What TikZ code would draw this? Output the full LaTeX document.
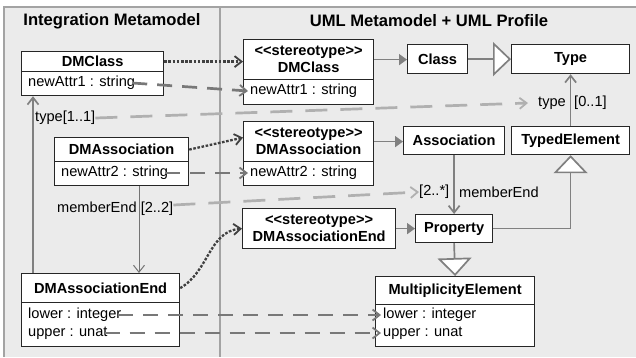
\documentclass[tikz,border=0pt]{standalone}
\usepackage{fontspec}
\setmainfont{Liberation Sans}
\usetikzlibrary{arrows.meta,positioning}

\definecolor{panel}{HTML}{EBEBEB}
\definecolor{frameln}{HTML}{A3A3A3}
\definecolor{conn}{HTML}{808080}
\definecolor{dotln}{HTML}{404040}
\definecolor{mapln}{HTML}{787878}
\definecolor{rolln}{HTML}{B0B0B0}
\newcommand\umlfont{\fontsize{14.6}{17}\selectfont}
\newcommand\stereotype{{<}{<}stereotype{>}{>}}

\begin{document}
\begin{tikzpicture}[x=1pt,y=-1pt,
  box/.style={draw=black!85,line width=1.2pt,fill=white,inner sep=0pt,anchor=north west,
    font=\umlfont\bfseries,align=center},
  attr/.style={inner sep=0pt,anchor=west,font=\umlfont},
  lbl/.style={inner sep=0pt,font=\umlfont},
  assoc/.style={draw=conn,line width=1.7pt,-{Straight Barb[length=7pt,width=11pt]}},
  ext/.style={draw=conn,line width=1.7pt,-{Triangle[length=8pt,width=11pt]}},
  gen/.style={draw=conn,line width=1.7pt,-{Triangle[length=18pt,width=34pt,fill=white]}},
  stereo/.style={draw=dotln,line width=2.3pt,dash pattern=on 2.6pt off 1.6pt,
    -{Straight Barb[length=7pt,width=11pt,line width=1.8pt]}},
  map/.style={draw=mapln,line width=2.7pt,dash pattern=on 15pt off 10pt,
    -{Straight Barb[length=7pt,width=11pt,line width=1.8pt]}},
  rolemap/.style={map,draw=rolln,dash pattern=on 22pt off 13pt},
]
\useasboundingbox (0,0) rectangle (636,357);

% panels
\fill[panel] (4,7) rectangle (636,357);
\draw[frameln,line width=1.6pt] (636,7) -- (4,7) -- (4,357);
\draw[frameln,line width=1.6pt] (220,7) -- (220,357);
\node[lbl,font=\fontsize{16.6}{18}\selectfont\bfseries] (titleL) at (112,21) {Integration Metamodel};
\node[lbl,font=\fontsize{16.6}{18}\selectfont\bfseries] (titleR) at (429,21) {UML Metamodel + UML Profile};

% integration metamodel
\node[box,minimum width=142pt,minimum height=20pt] (dmc) at (21,51) {DMClass};
\node[box,minimum width=142pt,minimum height=24pt] (dmcB) at (21,71) {};
\node[attr] (nA1) at (28,83) {newAttr1 : string};

\node[box,minimum width=134pt,minimum height=24pt] (dma) at (54,137) {DMAssociation};
\node[box,minimum width=134pt,minimum height=24pt] (dmaB) at (54,161) {};
\node[attr] (nA2) at (61,173) {newAttr2 : string};

\node[box,minimum width=158pt,minimum height=29pt] (dmae) at (21,273) {DMAssociationEnd};
\node[box,minimum width=158pt,minimum height=44pt] (dmaeB) at (21,302) {};
\node[attr] (nLo) at (28,315) {lower : integer};
\node[attr] (nUp) at (28,333) {upper : unat};

\node[attr] (t11) at (35,118) {type[1..1]};
\node[attr] (me22) at (57,209) {memberEnd [2..2]};

% uml metamodel + profile
\node[box,minimum width=130pt,minimum height=40pt] (sdmc) at (243,39) {\stereotype\\DMClass};
\node[box,minimum width=130pt,minimum height=25pt] (sdmcB) at (243,79) {};
\node[attr] (tA1) at (250,91) {newAttr1 : string};

\node[box,minimum width=130pt,minimum height=40pt] (sdma) at (243,121) {\stereotype\\DMAssociation};
\node[box,minimum width=130pt,minimum height=24pt] (sdmaB) at (243,161) {};
\node[attr] (tA2) at (250,173) {newAttr2 : string};

\node[box,minimum width=153pt,minimum height=40pt] (sdmae) at (242,208) {\stereotype\\DMAssociationEnd};

\node[box,minimum width=60pt,minimum height=29pt] (cls) at (407,44) {Class};
\node[box,minimum width=118pt,minimum height=29pt] (type) at (511,44) {Type};
\node[box,minimum width=101pt,minimum height=28pt] (asc) at (403,126) {Association};
\node[box,minimum width=118pt,minimum height=28pt] (typed) at (511,126) {TypedElement};
\node[box,minimum width=77pt,minimum height=28pt] (prop) at (415,214) {Property};
\node[box,minimum width=159pt,minimum height=28pt] (me) at (375,276) {MultiplicityElement};
\node[box,minimum width=159pt,minimum height=42pt] (meB) at (375,304) {};
\node[attr] (tLo) at (383,315) {lower : integer};
\node[attr] (tUp) at (383,333) {upper : unat};

\node[lbl,anchor=east] (t01a) at (566,103) {type};
\node[lbl,anchor=west] (t01b) at (574,103) {[0..1]};
\node[lbl,anchor=west] (m2s) at (419,192) {[2..*]};
\node[lbl,anchor=west] (mEnd) at (459,192) {memberEnd};

% metamodel relations
\draw[ext] (sdmc.east) -- (sdmc.east -| cls.west);
\draw[gen] (cls.east) -- (type.west);
\draw[assoc] (typed.north) -- (type.south);
\draw[ext] (sdma.east) -- (sdma.east -| asc.west);
\draw[assoc] (asc.south) -- (prop.north);
\draw[ext] (sdmae.east) -- (prop.west);
\draw[gen] (prop.east) -| (typed.south);
\draw[gen] (prop.south) -- (me.north);

\draw[assoc] ([xshift=12pt]dmae.north west) -- ([xshift=12pt]dmcB.south west);
\draw[assoc,line width=1pt,draw=black!55] ([xshift=85pt]dmaB.south west) -- ([xshift=118pt]dmae.north west);

% stereotype mapping
\draw[stereo] (dmc.east) -- (dmc.east -| sdmc.west);
\draw[stereo] (dma.east) -- ([yshift=4pt]sdma.west);
\draw[stereo] (dmae.east) to[out=30,in=185] (sdmae.west);

% attribute and role mapping
\draw[map] ([xshift=-3pt]nA1.east) -- ([xshift=-2pt]tA1.west);
\draw[map] ([xshift=-3pt]nA2.east) -- ([xshift=-2pt]tA2.west);
\draw[map] ([xshift=-3pt]nLo.east) -- ([xshift=-2pt]tLo.west);
\draw[map] ([xshift=-3pt]nUp.east) -- ([xshift=-2pt]tUp.west);
\draw[rolemap] (t11.east) -- ([xshift=-10pt]t01a.west);
\draw[rolemap] ([yshift=4pt]me22.east) -- (m2s.west);
\end{tikzpicture}
\end{document}
